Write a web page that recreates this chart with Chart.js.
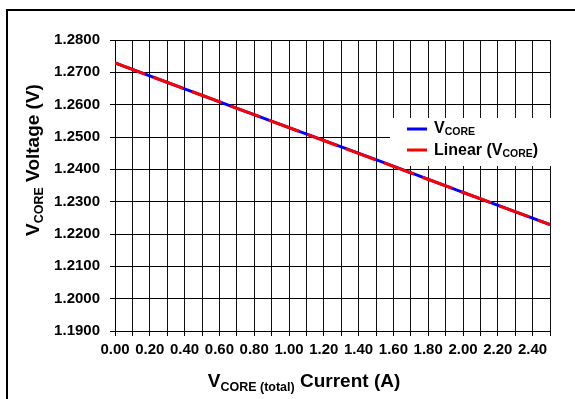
<!DOCTYPE html>
<html>
<head>
<meta charset="utf-8">
<script src="https://cdn.jsdelivr.net/npm/chart.js@4"></script>
<style>
  html, body { margin: 0; padding: 0; background: #fff; }
  #wrap { width: 575px; height: 399px; }
</style>
</head>
<body>
<div id="wrap"><canvas id="c" width="575" height="399"></canvas></div>
<script>
// ---- data ----
const currentValues = [0, 0.5, 1.0, 1.5, 2.0, 2.5];
const vcoreValues = [1.2729, 1.2629, 1.2529, 1.2430, 1.2329, 1.2229];
const trendCurrent = [0, 2.5];
const trendValues = [1.2729, 1.2229];
const xTickLabels = ['0.00','0.20','0.40','0.60','0.80','1.00','1.20','1.40','1.60','1.80','2.00','2.20','2.40'];
const yTickLabels = ['1.1900','1.2000','1.2100','1.2200','1.2300','1.2400','1.2500','1.2600','1.2700','1.2800'];

const FONT = '"Liberation Sans", Arial, Helvetica, sans-serif';

function richWidth(ctx, parts) {
  let w = 0;
  for (const p of parts) { ctx.font = 'bold ' + p.size + 'px ' + FONT; w += ctx.measureText(p.t).width; }
  return w;
}
function drawRich(ctx, parts, x, y) {
  ctx.textAlign = 'left';
  ctx.textBaseline = 'alphabetic';
  ctx.fillStyle = '#000';
  for (const p of parts) {
    ctx.font = 'bold ' + p.size + 'px ' + FONT;
    ctx.fillText(p.t, x, y + (p.dy || 0));
    x += ctx.measureText(p.t).width;
  }
}

const decor = {
  id: 'decor',
  beforeDraw(chart) {
    const ctx = chart.ctx;
    ctx.save();
    ctx.fillStyle = '#fff';
    ctx.fillRect(0, 0, chart.width, chart.height);
    ctx.strokeStyle = '#000';
    ctx.lineWidth = 2;
    ctx.strokeRect(7, 10, 620, 620);
    ctx.restore();
  },
  beforeDatasetsDraw(chart) {
    const ctx = chart.ctx;
    ctx.save();
    // legend box
    ctx.fillStyle = '#fff';
    ctx.fillRect(390, 118, 162, 48);
    ctx.lineWidth = 3;
    ctx.strokeStyle = '#0000ff';
    ctx.beginPath(); ctx.moveTo(407, 129); ctx.lineTo(427, 129); ctx.stroke();
    ctx.strokeStyle = '#ff0000';
    ctx.beginPath(); ctx.moveTo(407, 150); ctx.lineTo(427, 150); ctx.stroke();
    drawRich(ctx, [{t:'V', size:16}, {t:'CORE', size:10.5, dy:2}], 434, 133);
    drawRich(ctx, [{t:'Linear (V', size:16}, {t:'CORE', size:10.5, dy:2}, {t:')', size:16}], 434, 155);
    ctx.restore();
  },
  afterDraw(chart) {
    const ctx = chart.ctx;
    ctx.save();
    // x title
    const xParts = [{t:'V', size:19}, {t:'CORE (total)', size:12.5, dy:4}, {t:' Current (A)', size:19}];
    const xw = richWidth(ctx, xParts);
    drawRich(ctx, xParts, 304 - xw / 2, 387);
    // y title
    const yParts = [{t:'V', size:19}, {t:'CORE', size:12.5, dy:4}, {t:' Voltage (V)', size:19}];
    const yw = richWidth(ctx, yParts);
    ctx.translate(39, 160);
    ctx.rotate(-Math.PI / 2);
    drawRich(ctx, yParts, -yw / 2, 0);
    ctx.restore();
  }
};

new Chart(document.getElementById('c'), {
  type: 'scatter',
  data: {
    datasets: [
      {
        label: 'VCORE',
        data: currentValues.map((x, i) => ({x: x, y: vcoreValues[i]})),
        showLine: true,
        borderColor: '#0000ff',
        backgroundColor: '#0000ff',
        borderWidth: 3,
        pointRadius: 0,
        order: 2
      },
      {
        label: 'Linear (VCORE)',
        data: trendCurrent.map((x, i) => ({x: x, y: trendValues[i]})),
        showLine: true,
        borderColor: '#ff0000',
        backgroundColor: '#ff0000',
        borderWidth: 3,
        borderDash: [32, 9],
        pointRadius: 0,
        order: 1
      }
    ]
  },
  options: {
    responsive: false,
    animation: false,
    layout: { padding: { top: 40, right: 25, left: 0, bottom: 0 } },
    plugins: { legend: { display: false }, tooltip: { enabled: false } },
    scales: {
      x: {
        type: 'linear',
        min: 0, max: 2.5,
        afterFit(s) { s.height = 68; },
        grid: { color: '#111', lineWidth: 1, tickLength: 5, tickColor: '#000' },
        border: { color: '#000', width: 1 },
        ticks: {
          stepSize: 0.1,
          autoSkip: false,
          maxRotation: 0,
          padding: 5,
          color: '#000',
          font: { family: FONT, size: 15, weight: 'bold' },
          callback: (v, i) => (i % 2 === 0 && xTickLabels[i / 2] !== undefined) ? xTickLabels[i / 2] : ''
        }
      },
      y: {
        type: 'linear',
        min: 1.19, max: 1.28,
        afterFit(s) { s.width = 115; },
        grid: { color: '#000', lineWidth: 1, tickLength: 5, tickColor: '#000' },
        border: { color: '#000', width: 1 },
        ticks: {
          stepSize: 0.01,
          autoSkip: false,
          padding: 10,
          color: '#000',
          font: { family: FONT, size: 15, weight: 'bold' },
          callback: (v, i) => yTickLabels[i]
        }
      }
    }
  },
  plugins: [decor]
});
</script>
</body>
</html>
